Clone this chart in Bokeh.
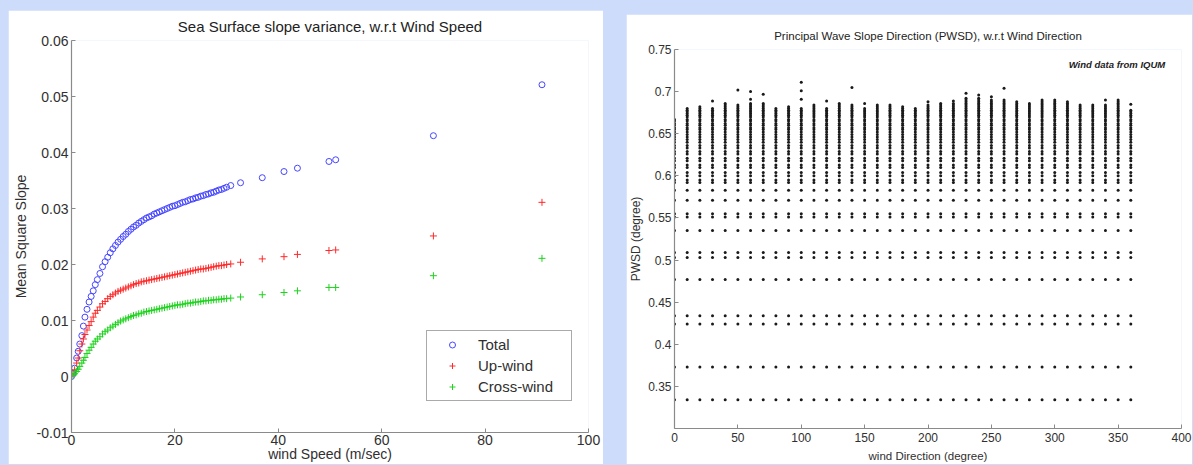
import re
from bokeh.plotting import figure
from bokeh.models import (Range1d, FixedTicker, PrintfTickFormatter, Label,
                          Legend, LegendItem, Spacer)
from bokeh.layouts import row, column
from bokeh.embed import file_html
from bokeh.resources import INLINE

# ---------------- Left chart data ----------------
wind_speed = [0.0, 0.3, 0.6, 1.0, 1.3, 1.6, 2.0, 2.3, 2.6, 3.0, 3.4, 3.8, 4.2, 4.6,
              5.0, 5.5, 6.0, 6.5, 7.0, 7.5, 8.0, 8.5, 9.0, 9.5, 10.0, 10.5, 11.0,
              11.5, 12.0, 12.5, 13.0, 13.5, 14.0, 14.5, 15.0, 15.5, 16.0, 16.5,
              17.0, 17.5, 18.0, 18.5, 19.0, 19.5, 20.0, 20.5, 21.0, 21.5, 22.0,
              22.5, 23.0, 23.5, 24.0, 24.5, 25.0, 25.5, 26.0, 26.5, 27.0, 27.5,
              28.0, 28.5, 29.0, 29.5, 30.0, 30.8,
              32.7, 36.9, 41.1, 43.7, 49.8, 51.1, 70.0, 91.0]

mss_total = [0.0000, 0.0005, 0.0015, 0.0033, 0.0045, 0.0058, 0.0073, 0.0090, 0.0106,
             0.0120, 0.0133, 0.0143, 0.0153, 0.0164, 0.0173, 0.0184, 0.0196, 0.0205,
             0.0213, 0.0221, 0.0228, 0.0234, 0.0240, 0.0245, 0.0250, 0.0254, 0.0259,
             0.0263, 0.0267, 0.0270, 0.0274, 0.0277, 0.0280, 0.0283, 0.0285, 0.0287,
             0.0290, 0.0292, 0.0294, 0.0296, 0.0298, 0.0300, 0.0302, 0.0304, 0.0305,
             0.0307, 0.0309, 0.0311, 0.0312, 0.0314, 0.0316, 0.0317, 0.0319, 0.0320,
             0.0322, 0.0323, 0.0325, 0.0326, 0.0328, 0.0329, 0.0331, 0.0333, 0.0334,
             0.0336, 0.0338, 0.0341,
             0.0346, 0.0355, 0.0366, 0.0372, 0.0384, 0.0387, 0.0430, 0.0521]

mss_upwind = [0.0000, 0.0005, 0.0012, 0.0024, 0.0033, 0.0046, 0.0058, 0.0067, 0.0075,
              0.0083, 0.0091, 0.0098, 0.0106, 0.0113, 0.0118, 0.0124, 0.0130, 0.0134,
              0.0139, 0.0143, 0.0146, 0.0149, 0.0152, 0.0154, 0.0156, 0.0158, 0.0160,
              0.0162, 0.0164, 0.0166, 0.0167, 0.0169, 0.0170, 0.0171, 0.0172, 0.0173,
              0.0174, 0.0175, 0.0176, 0.0177, 0.0178, 0.0179, 0.0180, 0.0181, 0.0182,
              0.0183, 0.0184, 0.0185, 0.0186, 0.0187, 0.0188, 0.0189, 0.0190, 0.0191,
              0.0192, 0.0192, 0.0193, 0.0194, 0.0195, 0.0196, 0.0197, 0.0198, 0.0198,
              0.0199, 0.0200, 0.0201,
              0.0204, 0.0210, 0.0214, 0.0218, 0.0225, 0.0226, 0.0251, 0.0311]

mss_crosswind = [0.0000, 0.0002, 0.0005, 0.0009, 0.0013, 0.0018, 0.0024, 0.0029, 0.0034,
                 0.0041, 0.0047, 0.0052, 0.0058, 0.0063, 0.0067, 0.0071, 0.0076, 0.0080,
                 0.0083, 0.0087, 0.0090, 0.0093, 0.0096, 0.0099, 0.0101, 0.0103, 0.0105,
                 0.0107, 0.0109, 0.0110, 0.0112, 0.0113, 0.0115, 0.0116, 0.0117, 0.0118,
                 0.0119, 0.0120, 0.0121, 0.0122, 0.0123, 0.0124, 0.0125, 0.0126, 0.0127,
                 0.0128, 0.0128, 0.0129, 0.0130, 0.0131, 0.0131, 0.0132, 0.0133, 0.0133,
                 0.0134, 0.0135, 0.0135, 0.0136, 0.0136, 0.0137, 0.0137, 0.0138, 0.0138,
                 0.0139, 0.0139, 0.0140,
                 0.0142, 0.0146, 0.0150, 0.0153, 0.0159, 0.0159, 0.0180, 0.0211]

left_xticks = [0, 20, 40, 60, 80, 100]
left_yticks = [-0.01, 0, 0.01, 0.02, 0.03, 0.04, 0.05, 0.06]

# ---------------- Right chart data ----------------
wind_dir = [0, 10, 20, 30, 40, 50, 60, 70, 80, 90, 100, 110, 120, 130, 140, 150,
            160, 170, 180, 190, 200, 210, 220, 230, 240, 250, 260, 270, 280, 290,
            300, 310, 320, 330, 340, 350, 360]

pwsd_levels = [0.334, 0.373, 0.424, 0.434, 0.477, 0.503, 0.509, 0.535, 0.551, 0.555,
               0.571, 0.583, 0.592, 0.595, 0.600, 0.604, 0.610, 0.613, 0.618, 0.621,
               0.626, 0.629, 0.633, 0.636, 0.640, 0.643, 0.646, 0.649, 0.652, 0.655,
               0.657, 0.660, 0.662, 0.665, 0.667, 0.670, 0.672, 0.674, 0.676, 0.678,
               0.680, 0.682, 0.684, 0.686, 0.688, 0.690, 0.692]

pwsd_col_top = [0.667, 0.681, 0.683, 0.680, 0.686, 0.684, 0.687, 0.686, 0.681, 0.682,
                0.681, 0.685, 0.680, 0.686, 0.684, 0.680, 0.685, 0.685, 0.682, 0.681,
                0.685, 0.686, 0.686, 0.693, 0.693, 0.691, 0.690, 0.689, 0.687, 0.690,
                0.690, 0.688, 0.685, 0.685, 0.685, 0.691, 0.678]

outlier_dir = [30, 50, 60, 60, 70, 100, 100, 100, 120, 140, 150, 200, 220, 230, 240,
               250, 260, 340, 360]
outlier_val = [0.689, 0.702, 0.700, 0.691, 0.697, 0.711, 0.701, 0.691, 0.689, 0.705,
               0.686, 0.688, 0.689, 0.698, 0.696, 0.694, 0.704, 0.690, 0.685]

right_xticks = [0, 50, 100, 150, 200, 250, 300, 350, 400]
right_yticks = [0.35, 0.4, 0.45, 0.5, 0.55, 0.6, 0.65, 0.7, 0.75]

# ---------------- Styling ----------------
FONT = "Liberation Sans"
AXIS_GRAY = "#8a8a8a"
TEXT = "#303030"
PAGE_BG = "#cddcfa"


def style_axes(p, fs, standoff):
    for ax in (p.xaxis[0], p.yaxis[0]):
        ax.axis_line_color = AXIS_GRAY
        ax.axis_line_width = 1.2
        ax.major_tick_line_color = AXIS_GRAY
        ax.major_tick_in = 4
        ax.major_tick_out = 0
        ax.minor_tick_line_color = None
        ax.major_label_text_font = FONT
        ax.major_label_text_font_size = fs
        ax.major_label_text_color = TEXT
        ax.major_label_standoff = standoff
        ax.axis_label_text_font = FONT
        ax.axis_label_text_font_style = "normal"
        ax.axis_label_text_color = TEXT
        ax.formatter = PrintfTickFormatter(format="%g")
    p.xgrid.visible = False
    p.ygrid.visible = False
    p.outline_line_color = None


# ---------------- Left figure ----------------
p1 = figure(width=595, height=454, x_range=Range1d(0, 100), y_range=Range1d(-0.01, 0.06),
            output_backend="svg", toolbar_location=None,
            title="Sea Surface slope variance, w.r.t Wind Speed",
            min_border_left=63, min_border_right=15, min_border_top=30, min_border_bottom=31,
            background_fill_color="white", border_fill_color="white")
p1.title.align = "center"
p1.title.text_font = FONT
p1.title.text_font_size = "15px"
p1.title.text_font_style = "normal"
p1.title.text_color = "#222222"
p1.title.standoff = 11
style_axes(p1, "14px", 2)
p1.xaxis.ticker = FixedTicker(ticks=left_xticks)
p1.yaxis.ticker = FixedTicker(ticks=left_yticks)
p1.yaxis.major_label_standoff = 3
p1.yaxis.axis_label = "Mean Square Slope"
p1.yaxis.axis_label_text_font_size = "14px"
p1.yaxis.axis_label_standoff = 5
p1.xaxis.axis_label = "wind Speed (m/sec)"
p1.xaxis.axis_label_text_font_size = "14px"
p1.xaxis.axis_label_standoff = -2

r_total = p1.scatter(wind_speed, mss_total, marker="circle", size=6, fill_color=None,
                     line_color="#4646ff", line_width=1)
r_up = p1.scatter(wind_speed, mss_upwind, marker="cross", size=7,
                  line_color="#ff2a2a", line_width=1)
r_cross = p1.scatter(wind_speed, mss_crosswind, marker="cross", size=7,
                     line_color="#1ed21e", line_width=1)

legend = Legend(items=[LegendItem(label="Total", renderers=[r_total]),
                       LegendItem(label="Up-wind", renderers=[r_up]),
                       LegendItem(label="Cross-wind", renderers=[r_cross])],
                location=(355, 31), label_text_font=FONT, label_text_font_size="15px",
                label_text_color=TEXT, glyph_width=44, glyph_height=15, label_height=21,
                label_width=90, label_standoff=4, padding=3, spacing=0, margin=0,
                border_line_color="#555555", border_line_width=1,
                background_fill_color="white", background_fill_alpha=1.0)
p1.add_layout(legend)

# ---------------- Right figure ----------------
p2 = figure(width=566, height=450, x_range=Range1d(0, 400), y_range=Range1d(0.3, 0.75),
            output_backend="svg", toolbar_location=None,
            title="Principal Wave Slope Direction (PWSD), w.r.t Wind Direction",
            min_border_left=47, min_border_right=11, min_border_top=35, min_border_bottom=36,
            background_fill_color="white", border_fill_color="white")
p2.title.align = "center"
p2.title.text_font = FONT
p2.title.text_font_size = "11.5px"
p2.title.text_font_style = "normal"
p2.title.text_color = "#222222"
p2.title.standoff = 16
style_axes(p2, "12px", 4)
p2.xaxis.ticker = FixedTicker(ticks=right_xticks)
p2.yaxis.ticker = FixedTicker(ticks=right_yticks)
p2.yaxis.major_label_standoff = 3
p2.yaxis.axis_label = "PWSD (degree)"
p2.yaxis.axis_label_text_font_size = "12px"
p2.yaxis.axis_label_standoff = 2
p2.xaxis.axis_label = "wind Direction (degree)"
p2.xaxis.axis_label_text_font_size = "11.5px"
p2.xaxis.axis_label_standoff = 5

dot_x, dot_y = [], []
for d, top in zip(wind_dir, pwsd_col_top):
    for lv in pwsd_levels:
        if lv <= top + 1e-9:
            dot_x.append(d)
            dot_y.append(lv)
dot_x += outlier_dir
dot_y += outlier_val

p2.scatter(dot_x, dot_y, marker="circle", size=3, fill_color="#1a1a1a", line_color=None)

p2.add_layout(Label(x=311, y=0.732, text="Wind data from IQUM",
                    text_align="left", text_baseline="middle", text_font=FONT,
                    text_font_size="9.5px", text_font_style="bold italic",
                    text_color="#222222"))

# ---------------- Layout ----------------
left = column(Spacer(width=595, height=10), p1)
right = column(Spacer(width=566, height=14), p2)
layout = row(Spacer(width=8, height=464), left, Spacer(width=23, height=464), right)

html = file_html(layout, INLINE, title="Sea surface slope charts")
html = html.replace("</head>", "<style>html, body { background-color: %s; }</style></head>" % PAGE_BG, 1)
html = re.sub(r"<body([^>]*)>", r'<body\1 style="background-color:%s;">' % PAGE_BG, html, count=1)
open("out.html", "w").write(html)
